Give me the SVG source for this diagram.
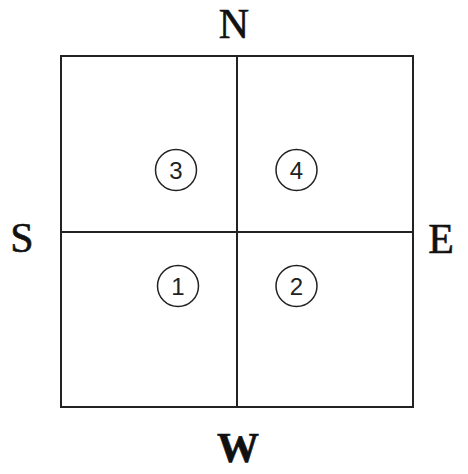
<svg xmlns="http://www.w3.org/2000/svg" width="468" height="474" viewBox="0 0 468 474">
<style>
.ln{stroke:#222;stroke-width:2;fill:none}
.c{stroke:#222;stroke-width:1.5;fill:#fff}
.d{font-family:"Liberation Sans",Arial,sans-serif;font-size:24px;fill:#222;text-anchor:middle}
.L{font-family:"Liberation Serif","Times New Roman",serif;font-size:42px;fill:#111;stroke:#111;stroke-width:0.6;text-anchor:middle}
</style>
<rect width="468" height="474" fill="#fff"/>
<g id="grid">
<rect class="ln" x="61" y="56" width="352" height="351"/>
<line class="ln" x1="237" y1="56" x2="237" y2="407"/>
<line class="ln" x1="61" y1="232" x2="413" y2="232"/>
</g>
<g id="n3"><circle class="c" cx="176" cy="170" r="20.5"/><text class="d" x="176" y="178.5">3</text></g>
<g id="n4"><circle class="c" cx="296.5" cy="170" r="20.5"/><text class="d" x="296.5" y="178.5">4</text></g>
<g id="n1"><circle class="c" cx="178" cy="286" r="20.5"/><text class="d" x="178" y="294.5">1</text></g>
<g id="n2"><circle class="c" cx="296.5" cy="286" r="20.5"/><text class="d" x="296.5" y="294.5">2</text></g>
<g id="labels">
<text class="L" x="234" y="38">N</text>
<text class="L" x="22" y="252">S</text>
<text class="L" x="441" y="253">E</text>
<text class="L" x="238" y="462" font-weight="bold" stroke-width="0">W</text>
</g>
</svg>
